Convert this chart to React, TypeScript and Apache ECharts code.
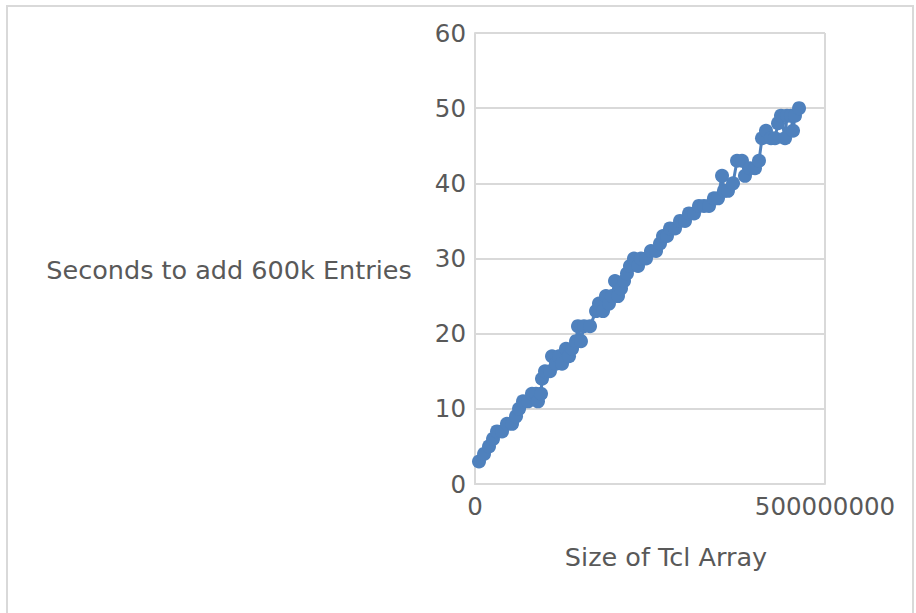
import React, { useEffect, useRef } from "react";
import * as echarts from "echarts";

// Array size (entries) at each measurement
const sizes: number[] = [
  5700000, 12900000, 20000000, 25700000, 31400000, 38600000, 45700000, 52900000,
  58600000, 62900000, 68600000, 75700000, 81400000, 87100000, 90000000, 94300000,
  95700000, 100000000, 107100000, 110000000, 115700000, 120000000, 124300000, 130000000,
  134300000, 138600000, 144300000, 147100000, 151400000, 155700000, 164300000, 172900000,
  177100000, 182900000, 187100000, 191400000, 195700000, 200000000, 204300000, 208600000,
  212900000, 217100000, 221400000, 227100000, 232900000, 237100000, 244300000, 251400000,
  258600000, 264300000, 268600000, 274300000, 278600000, 285700000, 292900000, 300000000,
  305700000, 312900000, 320000000, 327100000, 334300000, 341400000, 347100000, 352900000,
  355700000, 361400000, 368600000, 374300000, 381400000, 385700000, 392900000, 400000000,
  405700000, 410000000, 415700000, 422900000, 428600000, 432900000, 437100000, 442900000,
  445700000, 451400000, 454300000, 457100000, 462900000,
];

// Seconds taken to add 600k entries at that size
const seconds: number[] = [
  3, 4, 5, 6, 7, 7, 8, 8,
  9, 10, 11, 11, 12, 12, 11, 12,
  14, 15, 15, 17, 16, 17, 16, 18,
  17, 18, 19, 21, 19, 21, 21, 23,
  24, 23, 25, 24, 25, 27, 25, 26,
  27, 28, 29, 30, 29, 30, 30, 31,
  31, 32, 33, 33, 34, 34, 35, 35,
  36, 36, 37, 37, 37, 38, 38, 41,
  39, 39, 40, 43, 43, 41, 42, 42,
  43, 46, 47, 46, 46, 48, 49, 46,
  49, 49, 47, 49, 50,
];

const xTicks = { min: 0, max: 500000000, interval: 500000000 };
const yTicks = { min: 0, max: 60, interval: 10 };

const FONT = "DejaVu Sans";
const TEXT = "#595959";
const RULE = "#d9d9d9";
const BLUE = "#4f81bd";

export default function App() {
  const ref = useRef<HTMLDivElement>(null);

  useEffect(() => {
    if (!ref.current) return;
    const chart = echarts.init(ref.current, undefined, { renderer: "svg" });
    const data = sizes.map((s, i) => [s, seconds[i]]);

    chart.setOption({
      animation: false,
      backgroundColor: "#ffffff",
      grid: { left: 475, top: 33, right: 91, bottom: 129, containLabel: false },
      xAxis: {
        type: "value",
        ...xTicks,
        axisLine: { show: true, lineStyle: { color: RULE, width: 2 } },
        axisTick: { show: false },
        splitLine: { show: true, lineStyle: { color: RULE, width: 2 } },
        axisLabel: {
          color: TEXT,
          fontFamily: FONT,
          fontSize: 24.5,
          margin: 10,
          formatter: (v: number) => String(v),
        },
      },
      yAxis: {
        type: "value",
        ...yTicks,
        axisLine: { show: true, lineStyle: { color: RULE, width: 2 } },
        axisTick: { show: false },
        splitLine: { show: true, lineStyle: { color: RULE, width: 2 } },
        axisLabel: { color: TEXT, fontFamily: FONT, fontSize: 24.5, margin: 9 },
      },
      series: [
        {
          type: "line",
          data,
          symbol: "circle",
          symbolSize: 14,
          showSymbol: true,
          itemStyle: { color: BLUE },
          lineStyle: { color: BLUE, width: 3 },
        },
      ],
      graphic: [
        {
          type: "rect",
          shape: { x: 7, y: 6, width: 906, height: 640 },
          style: { fill: "none", stroke: RULE, lineWidth: 2 },
          silent: true,
          z: -1,
        },
        {
          type: "text",
          x: 229,
          y: 270,
          style: {
            text: "Seconds to add 600k Entries",
            fill: TEXT,
            font: `25.5px "${FONT}"`,
            align: "center",
            verticalAlign: "middle",
          },
        },
        {
          type: "text",
          x: 666,
          y: 557,
          style: {
            text: "Size of Tcl Array",
            fill: TEXT,
            font: `25.5px "${FONT}"`,
            align: "center",
            verticalAlign: "middle",
          },
        },
      ],
    });

    return () => chart.dispose();
  }, []);

  return (
    <div
      ref={ref}
      style={{ position: "fixed", left: 0, top: 0, width: 916, height: 613 }}
    />
  );
}
